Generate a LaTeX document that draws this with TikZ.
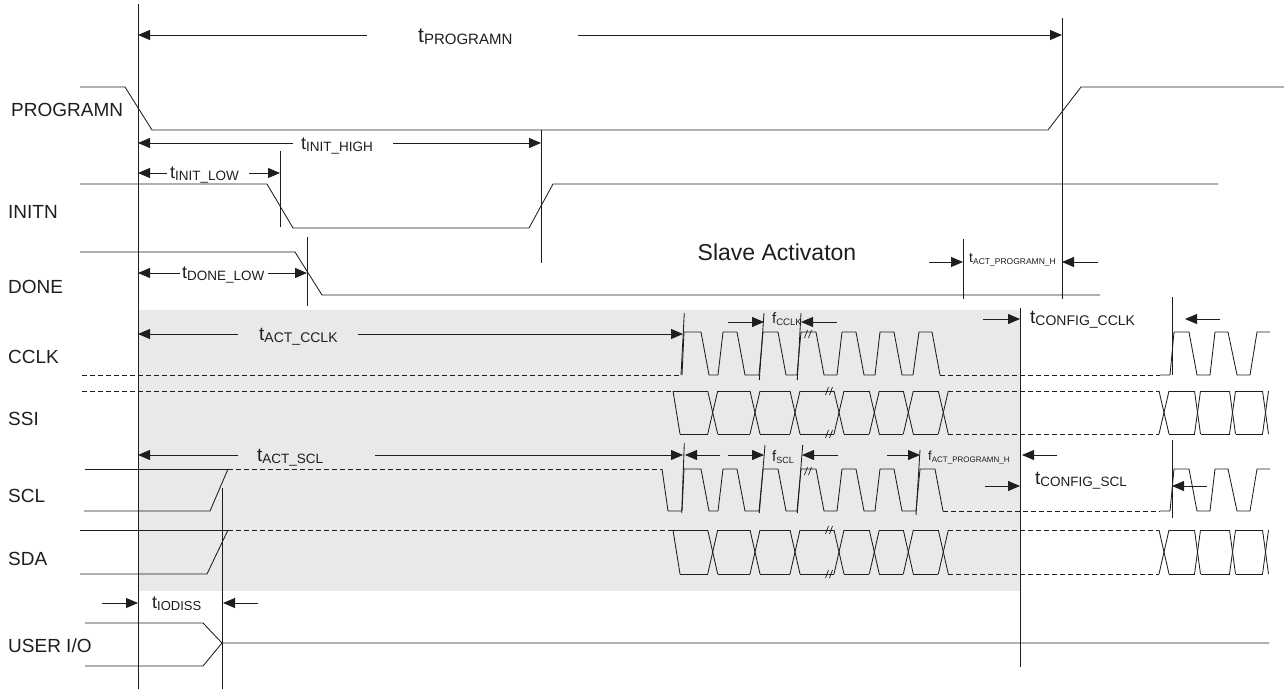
\documentclass[tikz,border=0pt]{standalone}
\usepackage{fontspec}
\setmainfont{Liberation Sans}
\usetikzlibrary{arrows.meta}
\definecolor{shadegray}{RGB}{233,233,233}
\definecolor{ink}{RGB}{30,30,30}
\newcommand{\tlab}[4]{{\fontsize{#1}{#1}\selectfont #3}\raisebox{-2.5pt}{\fontsize{#2}{#2}\selectfont #4}}
\newcommand{\brk}[2]{\draw[w,line width=0.7pt] ({#1-1.5},{#2+4}) -- ({#1+1.5},{#2-4}) ({#1+2.5},{#2+4}) -- ({#1+5.5},{#2-4});}
\newcommand{\bus}[2]{%
  \draw[w] (673,#1) -- (680,#2);
  \draw[w] (673,#1) -- (707.7,#1);
  \draw[w] (680,#2) -- (707.7,#2);
  \foreach \a/\b in {712.7/755, 755/795, 795/839, 839/874.3, 874.3/908.3, 908.3/943.3} {
    \draw[w] ({\a+5},#1) -- ({\b-5},#1);
    \draw[w] ({\a+5},#2) -- ({\b-5},#2);
  }
  \foreach \c in {712.7,755,795,839,874.3,908.3,943.3} {
    \draw[w] ({\c-5},#1) -- ({\c+5},#2);
    \draw[w] ({\c-5},#2) -- ({\c+5},#1);
  }
  \draw[dsh] (948.3,#1) -- (1159,#1);
  \draw[dsh] (948.3,#2) -- (1159,#2);
  \foreach \c/\h in {1164/5, 1197.5/3, 1232.5/3, 1265.5/3} {
    \draw[w] ({\c-\h},#1) -- ({\c+\h},#2);
    \draw[w] ({\c-\h},#2) -- ({\c+\h},#1);
  }
  \foreach \a/\b in {1169/1194.5, 1200.5/1229.5, 1235.5/1262.5} {
    \draw[w] (\a,#1) -- (\b,#1);
    \draw[w] (\a,#2) -- (\b,#2);
  }
}
\newcommand{\rclk}[2]{%
  \draw[w] (1160,#1) -- (1170,#1) -- (1174,#2) -- (1189,#2) -- (1197,#1) -- (1210,#1) -- (1215,#2) -- (1228,#2) -- (1237,#1) -- (1250,#1) -- (1257,#2) -- (1270,#2);
}
\begin{document}
\begin{tikzpicture}[x=1pt,y=-1pt,
  w/.style={line width=0.85pt, draw=ink, line join=round},
  dsh/.style={line width=0.85pt, draw=ink, dash pattern=on 5pt off 3pt},
  vl/.style={line width=0.85pt, draw=ink},
  arr/.style={line width=0.85pt, draw=ink, -{Triangle[length=12pt,width=10pt]}, fill=ink},
  lbl/.style={inner sep=0pt, anchor=west, font=\fontsize{19}{21}\selectfont, text=ink},
  tl/.style={inner sep=0pt, anchor=base west, text=ink}]
\useasboundingbox (0,0) rectangle (1284,689);
\fill[shadegray] (138,310) rectangle (1020,591);

% signal names
\node[lbl] (nprog) at (11,110) {PROGRAMN};
\node[lbl] (ninit) at (8,212) {INITN};
\node[lbl] (ndone) at (8,287) {DONE};
\node[lbl] (ncclk) at (8,357) {CCLK};
\node[lbl] (nssi) at (8,419) {SSI};
\node[lbl] (nscl) at (8,496) {SCL};
\node[lbl] (nsda) at (8,559) {SDA};
\node[lbl] (nuio) at (8,646) {USER I/O};
\node[inner sep=0pt, font=\fontsize{23}{25}\selectfont, text=ink] (slave) at (777,252) {Slave Activaton};

% vertical reference lines
\draw[vl] (138,4) -- (138,689);
\draw[vl] (1062,18) -- (1062,299);
\draw[vl] (541,130) -- (541,263);
\draw[vl] (280,151) -- (280,227);
\draw[vl] (307,237) -- (307,306);
\draw[vl] (963,239) -- (963,299);
\draw[vl] (1020,308) -- (1020,667);
\draw[vl] (1172,297) -- (1172,375);
\draw[vl] (1172,440) -- (1172,518);
\draw[vl] (222,488) -- (222,689);

% PROGRAMN, INITN, DONE, USER I/O
\draw[w] (80,87) -- (125,87) -- (152,130) -- (1048,130) -- (1081,87) -- (1284,87);
\draw[w] (80,184) -- (267,184) -- (293,228) -- (529,228) -- (553,184) -- (1218,184);
\draw[w] (80,252) -- (295,252) -- (322,295) -- (1100,295);
\draw[w] (85,623) -- (203,623) -- (222,643) -- (1269,643);
\draw[w] (85,666) -- (203,666) -- (222,643);

% CCLK
\draw[dsh] (82,375) -- (682,375);
\draw[w] (682,375) \foreach \r/\d in {682/2,718/5,759/4,797/4,837/5,875/5,913/6} { -- (\r,375) -- ({\r+\d},332) -- ({\r+19},332) -- ({\r+27},375) };
\draw[dsh] (940,375) -- (1160,375);
\rclk{375}{332}
\draw[vl] (681,375) -- (684.3,313);
\draw[vl] (759.3,380) -- (764,313);
\draw[vl] (797.3,380) -- (801,313);
\brk{806}{334}

% SSI
\draw[dsh] (82,391) -- (673,391);
\bus{391}{434}
\brk{827}{391}
\brk{827}{434}

% SCL
\draw[w] (85,469) -- (228,469);
\draw[w] (84,511) -- (210,511) -- (228,469);
\draw[dsh] (228,469) -- (662,469);
\draw[w] (662,469) -- (668,511) -- (682,511) \foreach \r/\d in {682/2,718/5,759/4,797/4,837/5,875/5,916/4} { -- (\r,511) -- ({\r+\d},469) -- ({\r+19},469) -- ({\r+27},511) };
\draw[dsh] (943,511) -- (1160,511);
\rclk{511}{469}
\draw[vl] (681.7,513) -- (684.3,443);
\draw[vl] (759.3,513) -- (765,445);
\draw[vl] (797.3,513) -- (802.7,445);
\draw[vl] (916,515) -- (920,450);
\brk{806}{471}

% SDA
\draw[w] (80,530) -- (228,530);
\draw[w] (80,574) -- (207,574) -- (228,530);
\draw[dsh] (228,530) -- (673,530);
\bus{530}{574}
\brk{827}{530}
\brk{827}{574}

% timing labels and arrows
\node[tl] (tprog) at (418,42) {\tlab{21}{15}{t}{PROGRAMN}};
\draw[arr] (367,35) -- (138,35);
\draw[arr] (578,35) -- (1062,35);

\node[tl] (tih) at (301,149) {\tlab{18}{13.5}{t}{INIT\_HIGH}};
\draw[arr] (293,143) -- (138,143);
\draw[arr] (393,143) -- (541,143);

\node[tl] (til) at (170,178) {\tlab{18}{13.5}{t}{INIT\_LOW}};
\draw[arr] (167,173) -- (138,173);
\draw[arr] (249,173) -- (280,173);

\node[tl] (tdl) at (182,278) {\tlab{18}{13.5}{t}{DONE\_LOW}};
\draw[arr] (180,273) -- (138,273);
\draw[arr] (268,273) -- (307,273);

\node[tl] (taph) at (969,262) {\tlab{14}{8.5}{t}{ACT\_PROGRAMN\_H}};
\draw[arr] (929,262) -- (963,262);
\draw[arr] (1098,262) -- (1062,262);

\node[tl] (tacc) at (259,340) {\tlab{19}{14}{t}{ACT\_CCLK}};
\draw[arr] (238,334) -- (138,334);
\draw[arr] (358,334) -- (683,334);

\node[tl] (fcclk) at (772,323) {\tlab{15}{9.5}{f}{CCLK}};
\draw[arr] (728,322) -- (764,322);
\draw[arr] (837,322) -- (801,322);

\node[tl] (tcc) at (1030,323) {\tlab{19}{14}{t}{CONFIG\_CCLK}};
\draw[arr] (983,319) -- (1020,319);
\draw[arr] (1220,319) -- (1185,319);

\node[tl] (tas) at (257,461) {\tlab{19}{13.5}{t}{ACT\_SCL}};
\draw[arr] (238,455) -- (138,455);
\draw[arr] (375,455) -- (683,455);
\draw[arr] (720,455) -- (685,455);
\draw[arr] (728,455) -- (764,455);
\node[tl] (fscl) at (772,461) {\tlab{15}{9}{f}{SCL}};
\draw[arr] (838,455) -- (802,455);
\draw[arr] (887,455) -- (920,455);
\node[tl] (faph) at (928,460) {\tlab{13}{8}{f}{ACT\_PROGRAMN\_H}};
\draw[arr] (1057,455) -- (1022,455);

\node[tl] (tcs) at (1035,484) {\tlab{19}{13.5}{t}{CONFIG\_SCL}};
\draw[arr] (985,486) -- (1020,486);
\draw[arr] (1207,486) -- (1172,486);

\node[tl] (tio) at (152,608) {\tlab{18}{13}{t}{IODISS}};
\draw[arr] (102,603) -- (138,603);
\draw[arr] (258,603) -- (223,603);
\end{tikzpicture}
\end{document}
